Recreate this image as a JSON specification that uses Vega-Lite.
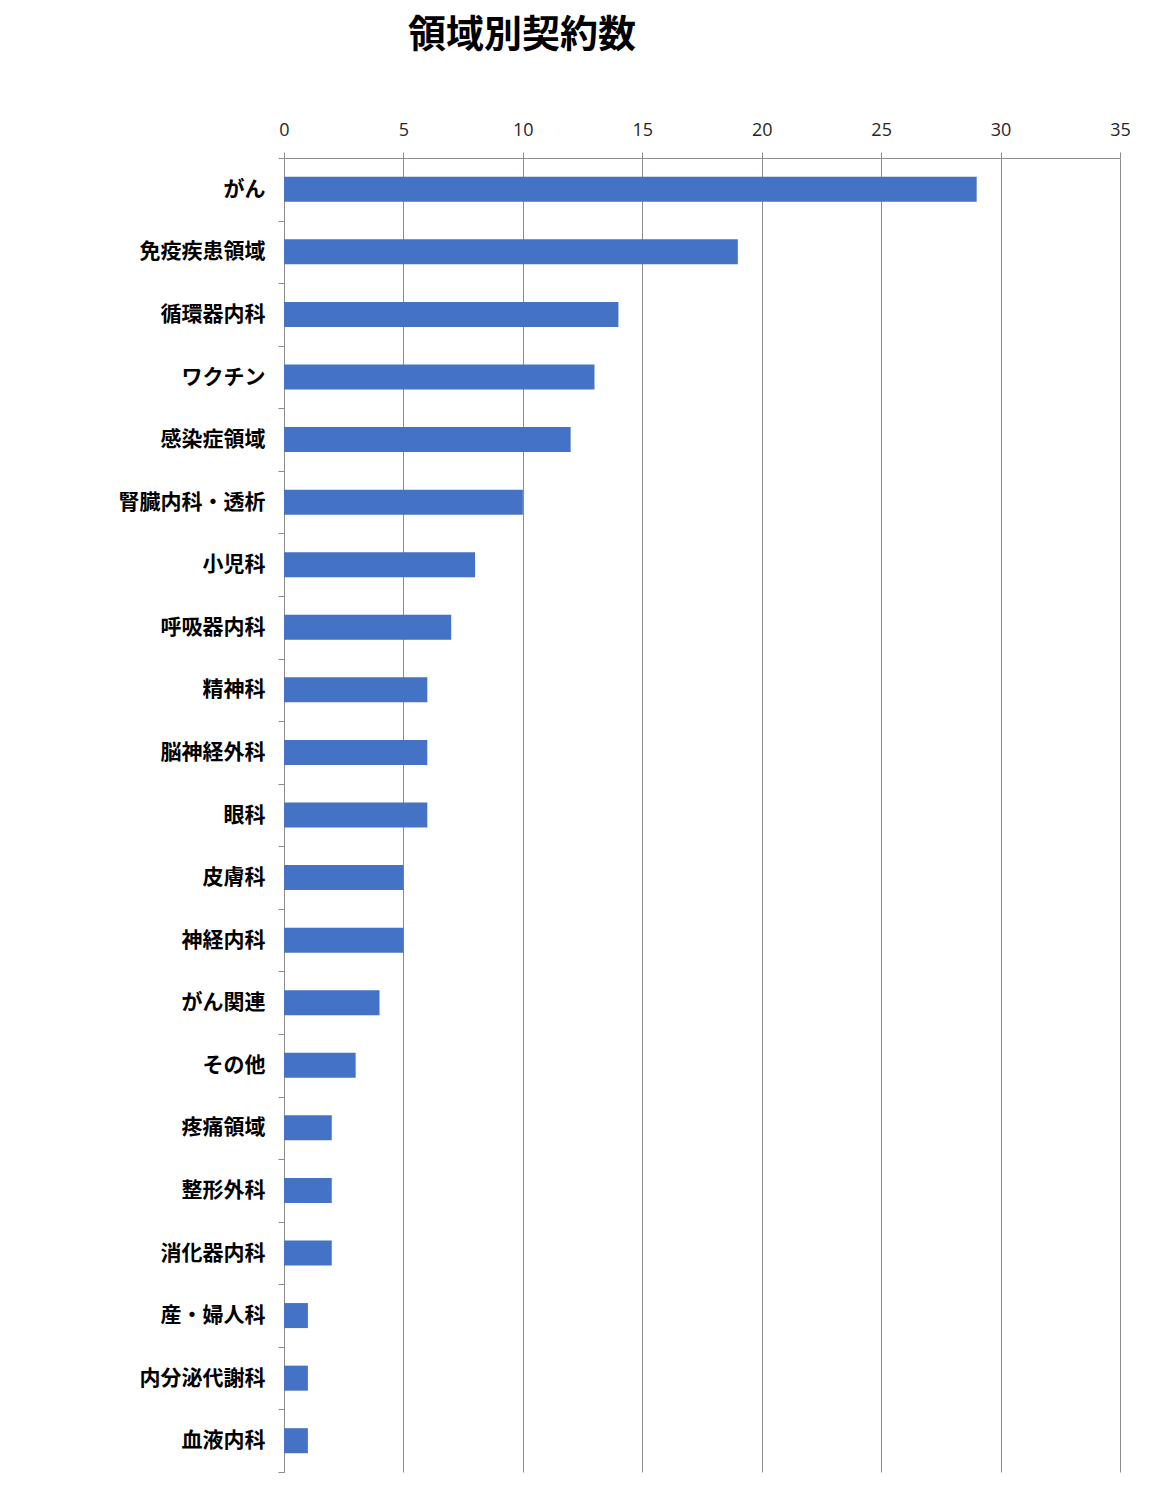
{
  "$schema": "https://vega.github.io/schema/vega-lite/v6.json",
  "autosize": {"type": "none"},
  "padding": {"left": 284, "top": 158, "right": 46, "bottom": 20},
  "width": 836,
  "height": 1314,
  "background": "white",
  "title": {
    "text": "領域別契約数",
    "font": "Noto Sans CJK JP",
    "fontSize": 38,
    "fontWeight": "bold",
    "color": "#000000",
    "anchor": "middle",
    "dx": -180,
    "offset": 66
  },
  "data": {
    "values": [
      {"area": "がん", "count": 29},
      {"area": "免疫疾患領域", "count": 19},
      {"area": "循環器内科", "count": 14},
      {"area": "ワクチン", "count": 13},
      {"area": "感染症領域", "count": 12},
      {"area": "腎臓内科・透析", "count": 10},
      {"area": "小児科", "count": 8},
      {"area": "呼吸器内科", "count": 7},
      {"area": "精神科", "count": 6},
      {"area": "脳神経外科", "count": 6},
      {"area": "眼科", "count": 6},
      {"area": "皮膚科", "count": 5},
      {"area": "神経内科", "count": 5},
      {"area": "がん関連", "count": 4},
      {"area": "その他", "count": 3},
      {"area": "疼痛領域", "count": 2},
      {"area": "整形外科", "count": 2},
      {"area": "消化器内科", "count": 2},
      {"area": "産・婦人科", "count": 1},
      {"area": "内分泌代謝科", "count": 1},
      {"area": "血液内科", "count": 1}
    ]
  },
  "mark": {"type": "bar", "color": "#4472C4", "height": {"band": 0.4}},
  "encoding": {
    "y": {
      "field": "area",
      "type": "nominal",
      "sort": null,
      "title": null,
      "scale": {"paddingInner": 0, "paddingOuter": 0},
      "axis": {
        "domainColor": "#8c8c8c",
        "tickColor": "#8c8c8c",
        "tickSize": 6,
        "tickBand": "extent",
        "labelFont": "Noto Sans CJK JP",
        "labelFontSize": 21,
        "labelFontWeight": "bold",
        "labelColor": "#000000",
        "labelPadding": 13,
        "grid": false
      }
    },
    "x": {
      "field": "count",
      "type": "quantitative",
      "title": null,
      "scale": {"domain": [0, 35], "nice": false},
      "axis": {
        "orient": "top",
        "values": [0, 5, 10, 15, 20, 25, 30, 35],
        "domainColor": "#8c8c8c",
        "tickColor": "#8c8c8c",
        "tickSize": 6,
        "grid": true,
        "gridColor": "#8c8c8c",
        "gridOpacity": 1,
        "labelFont": "Open Sans",
        "labelFontSize": 18,
        "labelColor": "#262626",
        "labelPadding": 13,
        "labelFlush": false
      }
    }
  },
  "config": {"view": {"stroke": null}}
}
